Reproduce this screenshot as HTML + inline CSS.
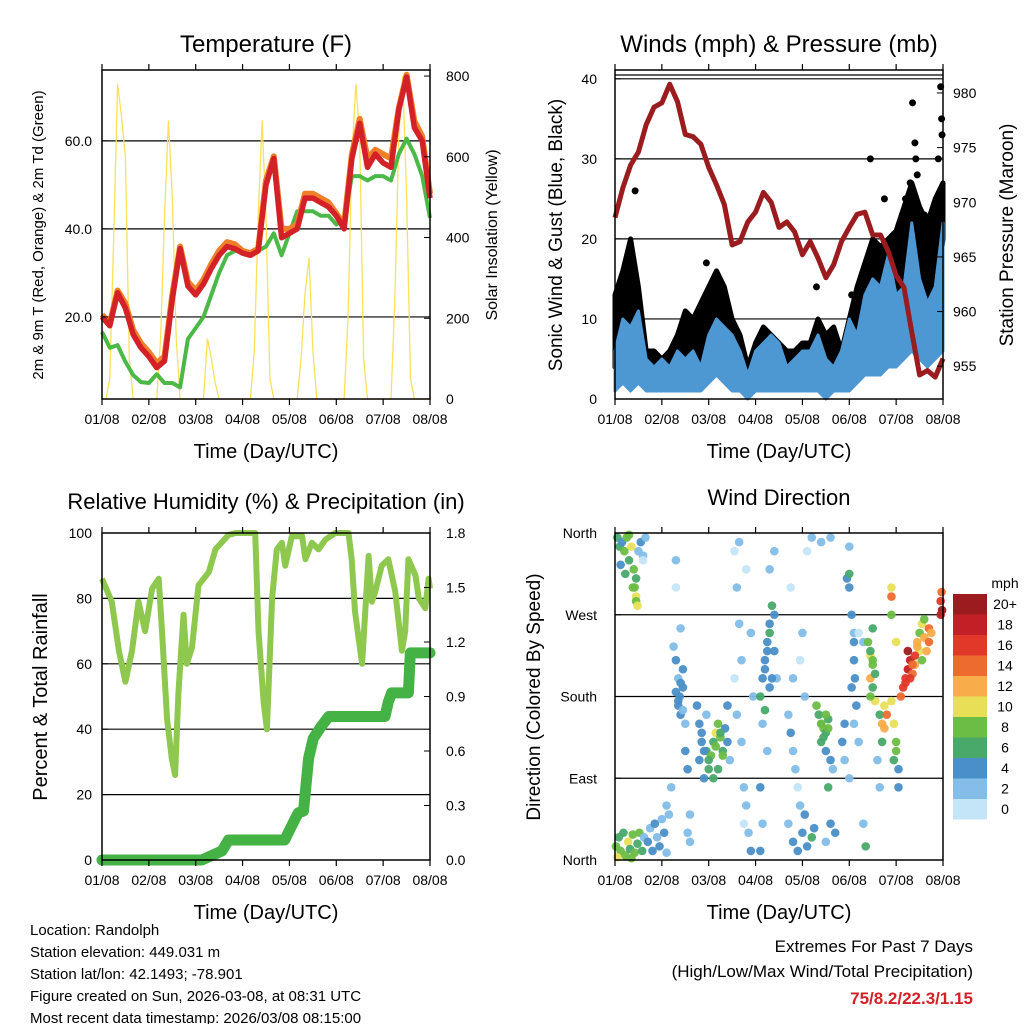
<!DOCTYPE html>
<html><head><meta charset="utf-8"><style>
body{margin:0;background:#fff}
svg{display:block;font-family:"Liberation Sans",sans-serif}
</style></head><body>
<svg id="c" width="1024" height="1024" viewBox="0 0 1024 1024" xmlns="http://www.w3.org/2000/svg"></svg>
<script>
// ---------- DATA ----------
const dayLabels=["01/08","02/08","03/08","04/08","05/08","06/08","07/08","08/08"];
// temperature, step 1/6 day
const tempT=[20,18,25.5,22,16,13,11,8.5,10,24,35.5,27,25,27.5,31,34,36,35.5,34.5,34,35,50,56,38,39,40,47,47,46,45,43,40,56,64,54,57,55,54,67,74.5,63,60,47];
const tempT9=[20.5,18.5,26,23,17,14,12,9.5,11,25,36,28,26,28.5,32,35,37,36.5,35,34.5,35.5,51,56.5,40,40,41,48,48,47,46,43.5,41,57,65,56,58,57,56,67.5,75,64.5,61,48];
const tempTd=[16.6,13,13.6,9.8,6.8,5.2,5,7,5,5,4,15,17.5,20,25,30,34,35,35,34.5,35,36,39,34,39,44,44,44,43,43,41,42,52,52,51,52,52,51,57,60.5,57,52,42.5];
// solar, step 1/12 day
const solar=[0,0,50,400,780,700,600,100,0,0,0,0, 0,0,0,150,450,690,500,150,0,0,0,0, 0,0,0,150,100,40,0,0,0,0,0,0, 0,0,0,120,450,690,450,50,0,0,0,0, 0,0,0,100,260,350,120,0,0,0,0,0, 0,0,0,200,600,780,650,100,0,0,0,0, 0,0,0,250,650,800,500,50,0,0,0,0, 0];
// winds, step 1/6 day
const windTop=[6,10,9,11,5,4,5,4,6,5,6,4,8,10,9,8,6,3,6,7,8,7,4,5,6,6,8,5,4,6,10,8,13,15,14,18,13,14,22,15,12,14,22];
const windLow=[1,2,1,2,1,1,1,1,1,1,1,1,2,3,2,1,1,0,1,1,1,1,1,1,1,1,1,0,1,1,1,2,3,3,3,4,4,5,6,5,4,5,6];
const gustTop=[13,16,20,14,6,6,5,6,8,11,10,12,14,16,14,10,8,4,7,9,8,7,6,6,7,7,10,8,9,6,10,14,17,20,19,20,21,24,27,24,22,25,27];
const gustOutT=[0.43,1.95,2.2,4.3,5.05,5.45,5.75,6.35,6.4,6.42,6.45,6.95,6.97,6.98,6.6,6.2,6.3,6.9];
const gustOutV=[26,17,14,14,13,30,25,37,32,30,28,39,35,33,23,25,27,30];
const pressure=[968.6,971.3,973.4,974.6,977.1,978.7,979.1,980.8,979.2,976.2,976,975.3,973.2,971.6,969.8,966.1,966.4,968.2,969.1,970.9,970,967.7,968.2,967.3,965.2,966.4,964.9,963.1,964.3,966.4,967.7,968.9,969.1,967,967,965.5,963.3,962.2,958.1,954.2,954.6,954,955.7];
// RH (time,value)
const rhT=[0,0.21,0.36,0.5,0.64,0.78,0.92,1.07,1.21,1.28,1.39,1.49,1.56,1.63,1.74,1.81,1.92,2.06,2.28,2.42,2.7,2.85,3.27,3.34,3.45,3.52,3.63,3.73,3.84,3.91,4.05,4.27,4.34,4.48,4.62,4.77,4.98,5.26,5.33,5.4,5.55,5.69,5.76,5.83,5.97,6.11,6.26,6.4,6.47,6.54,6.69,6.76,6.9,6.97,7.0];
const rhV=[86,79,64,54.5,64,79,70,83,86,70,43,31,26,51,75,60,65,84,88,95,99.4,100,100,70,48,40,80,95,97,90,99,99,92,97,95,98,100,100,92,76,60,93,79,82,90,92,82,64,70,92,87,80,77,86,83];
// precipitation (time,value)
const prT=[0,2.13,2.56,2.7,3.9,4.05,4.19,4.3,4.41,4.51,4.69,4.84,6.04,6.11,6.18,6.54,6.58,7.0];
const prV=[0,0,0.05,0.11,0.11,0.19,0.26,0.27,0.56,0.67,0.74,0.79,0.79,0.87,0.92,0.92,1.14,1.14];
// wind direction scatter (day, degrees, mph)
const wdT=[0.05,0.1,0.15,0.2,0.25,0.3,0.35,0.4,0.45,0.42,0.45,0.5,0.55,0.6,0.12,0.22,0.3,0.38,0.45,0.65,0.48,
0.02,0.08,0.12,0.18,0.22,0.28,0.32,0.38,0.42,0.48,0.52,0.58,0.62,0.05,0.35,
0.7,0.75,0.8,0.85,0.9,0.95,1.0,1.05,1.1,1.15,1.1,0.6,1.3,
1.25,1.3,1.35,1.35,1.4,1.45,1.45,1.5,1.5,1.55,1.55,1.6,1.6,1.2,1.3,1.4,
1.75,1.8,1.85,1.8,1.9,1.95,1.95,2.0,2.05,2.1,2.15,2.2,2.25,2.3,2.35,2.4,2.4,2.45,2.2,2.1,
2.55,2.6,2.65,2.7,2.55,2.6,2.7,2.75,2.8,2.85,2.9,2.75,2.65,2.8,2.9,2.95,
3.1,3.15,3.2,3.25,3.3,3.35,3.4,3.2,3.3,3.4,3.15,3.25,3.1,3.15,3.1,3.3,3.4,3.45,
3.7,3.75,3.8,3.85,3.9,3.95,3.7,3.8,3.9,4.0,4.05,4.1,4.2,4.25,3.8,3.95,4.0,4.05,3.75,4.1,4.2,
4.3,4.35,4.4,4.45,4.5,4.55,4.4,4.5,4.6,4.65,4.55,4.6,4.5,4.7,4.4,4.6,
4.95,5.0,5.0,5.05,5.1,5.1,5.05,5.15,5.1,5.2,4.9,4.85,4.9,5.0,5.2,5.3,5.3,5.35,5.0,
5.4,5.45,5.5,5.45,5.5,5.55,5.45,5.5,5.45,5.65,5.7,5.75,5.8,5.75,5.7,5.6,5.65,5.9,5.95,6.0,6.0,5.95,6.05,6.05,5.9,5.9,5.9,6.0,
6.1,6.15,6.2,6.25,6.3,6.25,6.35,6.4,6.45,6.5,6.5,6.55,6.6,6.65,6.7,6.7,6.4,6.3,6.55,6.75,6.95,6.98,6.97,6.95,6.6,
1.3,1.35,1.4,1.45,1.38,1.85,1.9,2.0,2.15,2.25,2.3,3.2,3.25,3.3,3.35,4.4,4.45,4.5,4.55,5.1,5.12,5.5,5.55,6.2,6.35,6.45];
const wdD=[355,345,350,340,355,330,345,320,310,300,290,340,350,335,325,315,358,300,285,355,280,
15,25,10,30,5,20,12,28,8,18,30,10,25,3,2,
20,35,10,40,25,15,45,30,8,50,60,330,300,
235,220,200,175,160,210,190,150,120,100,30,20,50,80,330,255,
170,150,130,110,90,160,120,100,115,130,140,150,135,120,145,170,130,110,100,90,
340,300,260,220,200,160,130,80,60,30,10,40,350,320,250,180,
180,200,220,240,260,280,270,165,190,230,150,120,80,40,10,320,340,200,
160,140,120,100,80,60,40,20,10,30,50,15,25,35,200,220,250,180,300,340,355,
170,160,150,145,140,155,130,120,110,100,80,40,20,30,350,355,
310,315,300,270,250,220,190,170,150,130,150,130,110,90,250,240,40,15,345,
240,225,215,200,190,175,230,255,180,160,150,145,160,170,130,110,80,175,150,130,120,110,100,80,300,290,270,240,
180,190,200,210,220,230,205,215,240,230,250,260,245,230,240,255,225,200,220,250,285,275,295,270,265,
185,170,195,165,180,140,120,110,125,140,115,210,230,250,200,150,135,160,145,240,200,220,205,195,215,235];
const wdS=[6,7,5,8,9,7,10,8,7,9,10,3,4,3,5,6,8,8,9,2,10,
8,7,9,6,8,10,7,8,9,6,8,7,3,10,8,
4,3,5,4,3,5,2,4,3,2,2,1,1,
3,4,3,5,4,4,5,3,4,4,3,3,2,2,2,2,
4,5,4,5,4,3,6,7,8,6,10,9,8,7,5,4,4,3,6,7,
1,2,3,2,1,2,3,2,3,2,4,1,2,1,2,3,
6,5,4,5,4,6,5,7,5,4,3,2,4,3,4,2,2,3,
3,4,2,3,1,2,3,4,5,4,5,4,6,5,2,1,2,3,1,1,3,
8,7,9,8,6,7,6,5,4,2,6,5,3,4,2,3,
5,6,4,4,3,5,4,4,3,2,4,5,3,2,1,2,3,6,3,
9,10,8,12,6,10,7,6,8,6,12,13,14,11,6,3,3,10,10,9,8,7,4,4,10,15,8,10,
14,16,17,18,19,20,15,13,12,10,9,11,12,13,14,15,16,17,8,13,16,20,14,18,8,
4,5,4,3,5,5,4,6,8,7,9,5,4,6,5,8,7,9,8,4,5,9,7,16,14,12];
const speedLabels=["20+","18","16","14","12","10","8","6","4","2","0"];
const speedColors=["#9b1b1f","#c21f26","#e1382a","#ee6b2f","#f9ac4a","#e8df57","#6bbd45","#49a96b","#4a8fc8","#83bde8","#c4e5f7"];

// ---------- HELPERS ----------
const NS="http://www.w3.org/2000/svg";
const svg=document.getElementById('c');
function mk(tag,attrs,parent,text){const e=document.createElementNS(NS,tag);for(const k in attrs)e.setAttribute(k,attrs[k]);if(text!==undefined)e.textContent=text;(parent||svg).appendChild(e);return e;}
function txt(x,y,s,size,anchor,parent,extra){const e=mk('text',Object.assign({x:x,y:y,'font-size':size,'text-anchor':anchor||'middle',fill:'#000'},extra||{}),parent,s);return e;}
function panel(x0,y0,x1,y1){return {x0,y0,x1,y1,xs:d=>x0+d*(x1-x0)/7};}
function ys(p,lo,hi){return v=>p.y1-(v-lo)*(p.y1-p.y0)/(hi-lo);}
function pts(ts,vs,X,Y){return ts.map((t,i)=>X(t).toFixed(1)+','+Y(vs[i]).toFixed(1)).join(' ');}
function xAxis(p,name){
  const g=mk('g',{});
  
  
  dayLabels.forEach((l,i)=>{const x=p.xs(i);
    mk('line',{x1:x,y1:p.y1,x2:x,y2:p.y1+6,stroke:'#000','stroke-width':1.2},g);
    mk('line',{x1:x,y1:p.y0,x2:x,y2:p.y0-6,stroke:'#000','stroke-width':1.2},g);
    txt(x,p.y1+25,l,14,'middle',g);});
  txt((p.x0+p.x1)/2,p.y1+59,'Time (Day/UTC)',20,'middle',g);
}
function frame(p,name){const r=mk('rect',{x:p.x0,y:p.y0,width:p.x1-p.x0,height:p.y1-p.y0,fill:'none',stroke:'#000','stroke-width':1.5});}
function hline(p,y){mk('line',{x1:p.x0,y1:y,x2:p.x1,y2:y,stroke:'#000','stroke-width':1.2});}
function vlabel(x,y,s,size,name){const e=txt(0,0,s,size,'middle',svg,{transform:`translate(${x},${y}) rotate(-90)`});}
function ticksLeft(p,Y,vals,labels,xLab){vals.forEach((v,i)=>{const y=Y(v);mk('line',{x1:p.x0,y1:y,x2:p.x0+6,y2:y,stroke:'#000'});txt(xLab,y+5,labels[i],14,'end');});}
function ticksRight(p,Y,vals,labels,xLab){vals.forEach((v,i)=>{const y=Y(v);mk('line',{x1:p.x1,y1:y,x2:p.x1-6,y2:y,stroke:'#000'});txt(xLab,y+5,labels[i],14,'start');});}
const step6=tempT.map((_,i)=>i/6);
const step12=solar.map((_,i)=>i/12);

// ---------- PANEL 1: TEMPERATURE ----------
{const p=panel(102,70,430,399);
 const Y=ys(p,1.36,76.1), YS=ys(p,0,815);
 const t=txt(266,52,'Temperature (F)',24);
 [20,40,60].forEach(v=>hline(p,Y(v)));
 let e=mk('polyline',{points:pts(step12,solar,p.xs,YS),fill:'none',stroke:'#fbe15a','stroke-width':1.3});
 
 e=mk('polyline',{points:pts(step6,tempTd,p.xs,Y),fill:'none',stroke:'#4cb848','stroke-width':4,'stroke-linejoin':'round'});
 
 e=mk('polyline',{points:pts(step6,tempT9,p.xs,Y),fill:'none',stroke:'#f07f2a','stroke-width':6,'stroke-linejoin':'round'});
 
 e=mk('polyline',{points:pts(step6,tempT,p.xs,Y),fill:'none',stroke:'#d42027','stroke-width':5.5,'stroke-linejoin':'round'});
 
 frame(p,'temperature-plot-frame');
 ticksLeft(p,Y,[20,40,60],["20.0","40.0","60.0"],92);
 ticksRight(p,YS,[0,200,400,600,800],["0","200","400","600","800"],446);
 xAxis(p,'temperature-x-axis');
 vlabel(43,235,'2m & 9m T (Red, Orange) & 2m Td (Green)',15,'temperature-y-axis-title');
 vlabel(497,235,'Solar Insolation (Yellow)',16,'solar-y-axis-title');
}
// ---------- PANEL 2: WINDS ----------
{const p=panel(615,70,943,399);
 const Y=ys(p,0,41.1), YP=ys(p,952,982.1);
 const t=txt(779,52,'Winds (mph) & Pressure (mb)',24);
 [10,20,30,40].forEach(v=>hline(p,Y(v)));hline(p,75);
 const mid=windTop.map((v,i)=>Math.max(windLow[i],v-2));
 let e=mk('polygon',{points:pts(step6,gustTop,p.xs,Y)+' '+pts(step6.slice().reverse(),mid.slice().reverse(),p.xs,Y),fill:'#000',stroke:'#000','stroke-width':5,'stroke-linejoin':'round'});
 
 gustOutT.forEach((tt,i)=>{const c=mk('circle',{cx:p.xs(tt),cy:Y(gustOutV[i]),r:3.5,fill:'#000'});
  });
 e=mk('polygon',{points:pts(step6,windTop,p.xs,Y)+' '+pts(step6.slice().reverse(),windLow.slice().reverse(),p.xs,Y),fill:'#4d97d2',stroke:'#4d97d2','stroke-width':3,'stroke-linejoin':'round'});
 
 e=mk('polyline',{points:pts(step6,pressure,p.xs,YP),fill:'none',stroke:'#9b1c1f','stroke-width':5,'stroke-linejoin':'round'});
 
 frame(p,'winds-plot-frame');
 ticksLeft(p,Y,[0,10,20,30,40],["0","10","20","30","40"],597);
 ticksRight(p,YP,[955,960,965,970,975,980],["955","960","965","970","975","980"],953);
 xAxis(p,'winds-x-axis');
 vlabel(562,235,'Sonic Wind & Gust (Blue, Black)',19,'winds-y-axis-title');
 vlabel(1013,235,'Station Pressure (Maroon)',19,'pressure-y-axis-title');
}
// ---------- PANEL 3: RH ----------
{const p=panel(102,533,430,860);
 const Y=ys(p,0,100), YR=ys(p,0,1.8);
 const t=txt(266,509,'Relative Humidity (%) & Precipitation (in)',22);
 [20,40,60,80].forEach(v=>hline(p,Y(v)));
 let e=mk('polyline',{points:pts(rhT,rhV,p.xs,Y),fill:'none',stroke:'#8fc84f','stroke-width':6,'stroke-linejoin':'round'});
 
 e=mk('polyline',{points:pts(prT,prV,p.xs,YR),fill:'none',stroke:'#45b245','stroke-width':11,'stroke-linejoin':'round','stroke-linecap':'round'});
 
 frame(p,'humidity-plot-frame');
 ticksLeft(p,Y,[0,20,40,60,80,100],["0","20","40","60","80","100"],92);
 ticksRight(p,YR,[0,0.3,0.6,0.9,1.2,1.5,1.8],["0.0","0.3","0.6","0.9","1.2","1.5","1.8"],446);
 xAxis(p,'humidity-x-axis');
 vlabel(47,697,'Percent & Total Rainfall',20,'humidity-y-axis-title');
}
// ---------- PANEL 4: WIND DIRECTION ----------
{const p=panel(615,533,943,860);
 const Y=ys(p,0,360);
 const t=txt(779,505,'Wind Direction',22);
 [90,180,270].forEach(v=>hline(p,Y(v)));
 const g=mk('g',{});
 
 wdT.forEach((tt,i)=>{const b=Math.min(10,Math.floor(wdS[i]/2));
  const c=mk('circle',{cx:p.xs(tt),cy:Y(wdD[i]),r:4.3,fill:speedColors[10-b],opacity:0.95},g);
  });
 frame(p,'wind-direction-plot-frame');
 ticksLeft(p,Y,[0,90,180,270,360],["North","East","South","West","North"],597);
 xAxis(p,'wind-direction-x-axis');
 vlabel(540,697,'Direction (Colored By Speed)',19,'wind-direction-y-axis-title');
 const lg=mk('g',{});
 
 txt(1005,588,'mph',14,'middle',lg);
 speedLabels.forEach((l,i)=>{const y=594+i*20.5;
  mk('rect',{x:953,y:y,width:34,height:20.5,fill:speedColors[i]},lg);
  txt(1005,y+15,l,14,'middle',lg);});
}
// ---------- FOOTER ----------
{const g=mk('g',{});
 ["Location: Randolph","Station elevation: 449.031 m","Station lat/lon: 42.1493; -78.901","Figure created on Sun, 2026-03-08, at 08:31 UTC","Most recent data timestamp: 2026/03/08 08:15:00"].forEach((s,i)=>txt(30,935+i*22,s,15,'start',g));
 const h=mk('g',{});
 txt(973,952,'Extremes For Past 7 Days',17,'end',h);
 txt(973,977,'(High/Low/Max Wind/Total Precipitation)',17,'end',h);
 txt(973,1004,'75/8.2/22.3/1.15',17,'end',h,{fill:'#d42027','font-weight':'bold'});
}
</script>
</body></html>
